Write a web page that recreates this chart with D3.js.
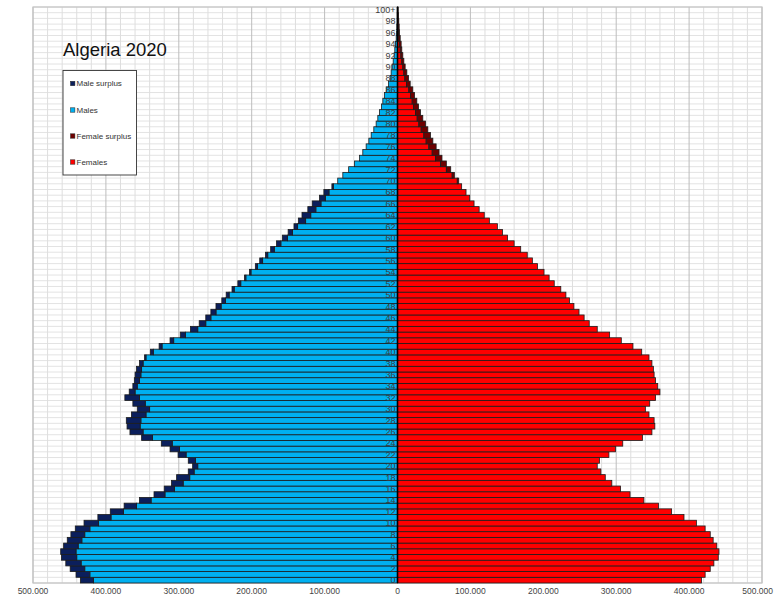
<!DOCTYPE html>
<html><head><meta charset="utf-8">
<script src="https://cdn.jsdelivr.net/npm/d3@7"></script>
<style>html,body{margin:0;padding:0;background:#fff;} svg{display:block;font-family:"Liberation Sans",Arial,sans-serif;}</style>
</head><body>
<svg id="chart" width="774" height="595"></svg>
<script>
// ---- data (thousands of people, age 0 .. 100+) ----
const ages = d3.range(0, 101);
const ageLabels = ages.map(a => a === 100 ? "100+" : (a % 2 === 0 ? String(a) : ""));
const males = [
 435,441,449,455,461,462,458,453,448,442,
 430,411,394,375,354,334,320,310,303,287,
 281,287,301,312,324,351,367,371,372,365,
 357,363,374,368,363,361,360,358,354,347,
 339,327,312,298,284,272,263,256,249,241,
 235,227,219,210,203,195,189,181,174,166,
 158,150,142,136,131,123,117,107,101,90,
 82,75,67,59,52,47.6,43,39.3,36.1,32.5,
 29.3,27,24.7,22,20.1,17.8,15.5,12.3,10,8.7,
 7.3,5.9,4.6,3.7,2.7,1.8,1.4,0.9,0.5,0.4,
 0.3];
const females = [
 417,422,429,434,440,441,438,433,429,422,
 410,393,376,358,338,319,306,294,285,279,
 274,277,290,299,309,336,349,353,352,345,
 340,346,354,360,357,354,352,351,349,345,
 335,323,307,291,274,263,256,249,242,236,
 231,224,215,208,201,192,185,178,169,160,
 151,144,137,126,119,112,105,99,94,88,
 84,78,73,67,61,57,53,48.5,45.3,41.6,
 38.4,34.7,31.5,28.8,26.5,23.3,21,17.4,15.1,12.8,
 10.5,8.7,7.3,5.9,5,3.7,2.7,2.3,1.8,1.4,
 0.9];
const xTickValues = [-500000,-400000,-300000,-200000,-100000,0,100000,200000,300000,400000,500000];
const legendLabels = ["Male surplus","Males","Female surplus","Females"];
const legendColors = ["#0b1f5c","#00b0f0","#6e0000","#ff0000"];
const chartTitle = "Algeria 2020";

(function () {
// ---- layout ----
const svg = d3.select("#chart");
const pL = 33, pR = 762, pT = 7, pB = 583;
const x = d3.scaleLinear().domain([-500000, 500000]).range([pL, pR]);
const y = d3.scaleBand().domain(ages.slice().reverse()).range([pT, pB]).paddingInner(0).paddingOuter(0);
const loc = d3.formatLocale({decimal: ",", thousands: ".", grouping: [3], currency: ["", ""]});
const fmt = loc.format(",");

const data = ages.map((a, i) => ({age: a, m: males[i] * 1000, f: females[i] * 1000}));

// grid
const g = svg.append("g");
g.selectAll("line.h").data(ages.concat([-1])).join("line")
  .attr("x1", pL).attr("x2", pR)
  .attr("y1", d => d === -1 ? pB : y(d)).attr("y2", d => d === -1 ? pB : y(d))
  .attr("stroke", "#e3e3e3").attr("stroke-width", 1);
const minor = d3.range(-500000, 500001, 20000);
g.selectAll("line.v").data(minor).join("line")
  .attr("x1", d => x(d)).attr("x2", d => x(d)).attr("y1", pT).attr("y2", pB)
  .attr("stroke", d => d % 100000 === 0 ? "#bdbdbd" : "#dedede").attr("stroke-width", 1);
g.append("rect").attr("x", pL).attr("y", pT).attr("width", pR - pL).attr("height", pB - pT)
  .attr("fill", "none").attr("stroke", "#c4c4c4").attr("stroke-width", 1.2);

// bars
const bars = svg.append("g").attr("stroke", "#1c1c1c").attr("stroke-width", 0.8);
const bh = y.bandwidth();
data.forEach(d => {
  const base = Math.min(d.m, d.f);
  const yy = y(d.age);
  bars.append("rect").attr("x", x(-base)).attr("y", yy).attr("width", x(0) - x(-base)).attr("height", bh).attr("fill", "#00b0f0");
  if (d.m > d.f) bars.append("rect").attr("x", x(-d.m)).attr("y", yy).attr("width", x(-base) - x(-d.m)).attr("height", bh).attr("fill", "#0b1f5c");
  bars.append("rect").attr("x", x(0)).attr("y", yy).attr("width", x(base) - x(0)).attr("height", bh).attr("fill", "#ff0000");
  if (d.f > d.m) bars.append("rect").attr("x", x(base)).attr("y", yy).attr("width", x(d.f) - x(base)).attr("height", bh).attr("fill", "#6e0000");
});

// center axis
svg.append("line").attr("x1", x(0)).attr("x2", x(0)).attr("y1", pT).attr("y2", pB)
  .attr("stroke", "#000").attr("stroke-width", 1.6);

// age labels
svg.append("g").selectAll("text").data(ages.filter((a, i) => ageLabels[i] !== "")).join("text")
  .attr("x", x(0) - 2).attr("y", a => y(a) + bh / 2)
  .attr("dy", "0.35em").attr("text-anchor", "end")
  .attr("font-size", 9).attr("fill", "#3c3c3c")
  .text(a => ageLabels[a]);

// x tick labels (last one kept inside the window)
svg.append("g").selectAll("text").data(xTickValues).join("text")
  .attr("x", (d, i) => i === xTickValues.length - 1 ? 773 : x(d)).attr("y", 594)
  .attr("text-anchor", (d, i) => i === xTickValues.length - 1 ? "end" : "middle")
  .attr("font-size", 8.5).attr("fill", "#444")
  .text(d => fmt(Math.abs(d)));

// title
svg.append("text").attr("x", 63).attr("y", 56).attr("font-size", 18.5).attr("fill", "#111").text(chartTitle);

// legend
const lg = svg.append("g");
lg.append("rect").attr("x", 63).attr("y", 70.5).attr("width", 73.5).attr("height", 104.5)
  .attr("fill", "#fff").attr("stroke", "#333").attr("stroke-width", 0.9);
const ly = [83.5, 110, 136, 162];
legendLabels.forEach((t, i) => {
  lg.append("rect").attr("x", 70.5).attr("y", ly[i] - 2.2).attr("width", 4.4).attr("height", 4.4)
    .attr("fill", legendColors[i]).attr("stroke", "#222").attr("stroke-width", 0.5);
  lg.append("text").attr("x", 76.5).attr("y", ly[i]).attr("dy", "0.35em")
    .attr("font-size", 8).attr("fill", "#333").text(t);
});
})();
</script>
</body></html>
